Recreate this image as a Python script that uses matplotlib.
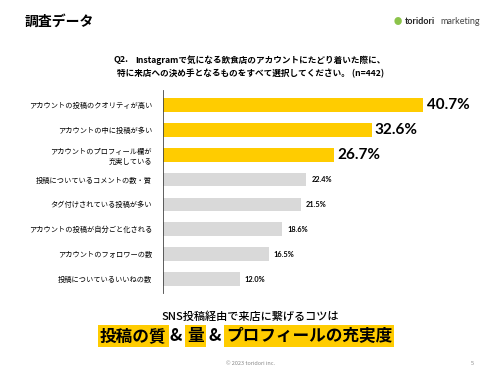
import matplotlib.pyplot as plt

plt.rcParams['font.family'] = ['Noto Sans CJK JP', 'DejaVu Sans']

# data
categories = [
    'アカウントの投稿のクオリティが高い',
    'アカウントの中に投稿が多い',
    'アカウントのプロフィール欄が\n充実している',
    '投稿についているコメントの数・質',
    'タグ付けされている投稿が多い',
    'アカウントの投稿が自分ごと化される',
    'アカウントのフォロワーの数',
    '投稿についているいいねの数',
]
values = [40.7, 32.6, 26.7, 22.4, 21.5, 18.6, 16.5, 12.0]
highlight = [True, True, True, False, False, False, False, False]

YELLOW = '#FFCC00'
GRAY = '#D9D9D9'

fig = plt.figure(figsize=(5, 3.75), dpi=100)
fig.patch.set_facecolor('white')

ax = fig.add_axes([0.326, 0.2187, 0.64, 0.5413])
ypos = list(range(len(values)))
colors = [YELLOW if h else GRAY for h in highlight]
ax.barh(ypos, values, height=0.55, color=colors)
ax.set_xlim(0, 50)
ax.set_ylim(7.56, -0.6)

for y, v, h in zip(ypos, values, highlight):
    if h:
        ax.text(v + 0.5, y, f'{v:.1f}%', va='center', ha='left',
                fontsize=11, fontweight='bold', family=['Lato', 'DejaVu Sans'])
    else:
        ax.text(v + 0.8, y, f'{v:.1f}%', va='center', ha='left',
                fontsize=5.3, fontweight='bold', family=['Lato', 'DejaVu Sans'])

ax.set_yticks(ypos)
ax.set_yticklabels(categories, fontsize=5.2, ha='right', linespacing=1.4)
ax.tick_params(axis='y', length=0, pad=8)
ax.set_xticks([])
for s in ['top', 'right', 'bottom']:
    ax.spines[s].set_visible(False)
ax.spines['left'].set_color('#444444')
ax.spines['left'].set_linewidth(0.6)

# header
fig.text(0.05, 0.942, '調査データ', fontsize=10, fontweight='bold', va='center')
fig.text(0.81, 0.942, 'toridori', fontsize=6.5, fontweight='bold', va='center',
         family=['Lato', 'DejaVu Sans'], color='#222222')
fig.text(0.88, 0.942, 'marketing', fontsize=6.5, va='center',
         family=['Lato', 'DejaVu Sans'], color='#444444')
fig.text(0.795, 0.942, '●', fontsize=6, va='center', ha='center', color='#8BC34A')

# question
fig.text(0.226, 0.84, 'Q2.', fontsize=6.4, ha='left', va='center', fontweight='bold')
fig.text(0.27, 0.84, 'Instagramで気になる飲食店のアカウントにたどり着いた際に、',
         fontsize=6.2, ha='left', va='center', fontweight='bold')
fig.text(0.502, 0.805, '特に来店への決め手となるものをすべて選択してください。 (n=442)',
         fontsize=6.2, ha='center', va='center', fontweight='bold')

# bottom message
fig.text(0.5, 0.155, 'SNS投稿経由で来店に繋げるコツは', fontsize=8, ha='center',
         va='center', fontweight='medium')
box = dict(boxstyle='square,pad=0.12', fc=YELLOW, ec='none')
y_msg = 0.103
fig.text(0.2, y_msg, '投稿の質', fontsize=12, fontweight='bold', va='center', ha='left', bbox=box)
fig.text(0.352, y_msg, '&', fontsize=12, fontweight='bold', va='center', ha='center')
fig.text(0.374, y_msg, '量', fontsize=12, fontweight='bold', va='center', ha='left', bbox=box)
fig.text(0.43, y_msg, '&', fontsize=12, fontweight='bold', va='center', ha='center')
fig.text(0.452, y_msg, 'プロフィールの充実度', fontsize=12, fontweight='bold', va='center',
         ha='left', bbox=box)

# footer
fig.text(0.5, 0.03, '© 2023 toridori inc.', fontsize=4, ha='center', va='center', color='#888888')
fig.text(0.945, 0.03, '5', fontsize=4, ha='center', va='center', color='#888888')

fig.savefig('out.png', dpi=100, facecolor='white')
